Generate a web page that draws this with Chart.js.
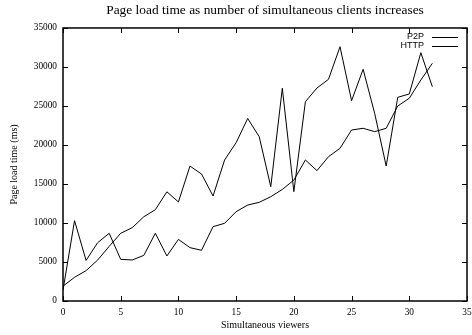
<!DOCTYPE html>
<html>
<head>
<meta charset="utf-8">
<script src="https://cdn.jsdelivr.net/npm/chart.js@4/dist/chart.umd.min.js"></script>
<style>
  html, body { margin: 0; padding: 0; background: #fff; }
  #wrap { width: 472px; height: 335px; }
</style>
</head>
<body>
<div id="wrap"><canvas id="loadChart" width="472" height="335"></canvas></div>
<script>
const viewers = [0, 1, 2, 3, 4, 5, 6, 7, 8, 9, 10, 11, 12, 13, 14, 15, 16,
  17, 18, 19, 20, 21, 22, 23, 24, 25, 26, 27, 28, 29, 30, 31, 32];
const p2pTimes = [1900, 3040, 3890, 5250, 7000, 8680, 9400, 10800, 11700, 14000,
  12700, 17300, 16280, 13460, 18080, 20300, 23400, 21060, 14650, 27270, 14020,
  25550, 27300, 28420, 32600, 25680, 29700, 24060, 17300, 26110, 26540, 31830, 27470];
const httpTimes = [1400, 10300, 5200, 7470, 8680, 5340, 5260, 5850, 8680, 5770,
  7900, 6840, 6500, 9530, 9960, 11450, 12300, 12650, 13370, 14300, 15500,
  18080, 16710, 18500, 19570, 21920, 22140, 21710, 22140, 25000, 25990, 28330, 30470];
const xTicks = [0, 5, 10, 15, 20, 25, 30, 35];
const yTicks = [0, 5000, 10000, 15000, 20000, 25000, 30000, 35000];

const serif = "'Liberation Serif', 'DejaVu Serif', serif";
const sans = "'Liberation Sans', Arial, sans-serif";

const toPoints = vals => viewers.map((v, i) => ({ x: v, y: vals[i] }));

// gnuplot style frame: border plus inward ticks on all four sides, and key at top right
const gnuplotFrame = {
  id: 'gnuplotFrame',
  afterDraw(chart) {
    const { ctx, chartArea: a, scales } = chart;
    const len = 5;
    ctx.save();
    ctx.strokeStyle = '#000';
    ctx.lineWidth = 1;
    ctx.beginPath();
    xTicks.forEach(t => {
      const px = Math.round(scales.x.getPixelForValue(t)) + 0.5;
      ctx.moveTo(px, a.bottom); ctx.lineTo(px, a.bottom - len);
      ctx.moveTo(px, a.top); ctx.lineTo(px, a.top + len);
    });
    yTicks.forEach(t => {
      const py = Math.round(scales.y.getPixelForValue(t)) + 0.5;
      ctx.moveTo(a.left, py); ctx.lineTo(a.left + len, py);
      ctx.moveTo(a.right, py); ctx.lineTo(a.right - len, py);
    });
    ctx.stroke();
    ctx.lineWidth = 1.5;
    ctx.strokeRect(a.left, a.top, a.right - a.left, a.bottom - a.top);

    // key
    ctx.font = '9px ' + sans;
    ctx.fillStyle = '#000';
    ctx.textAlign = 'right';
    ctx.textBaseline = 'middle';
    ctx.lineWidth = 1;
    chart.data.datasets.forEach((ds, i) => {
      const y = a.top + 9 + i * 9;
      ctx.fillText(ds.label, a.right - 43, y);
      ctx.beginPath();
      ctx.moveTo(a.right - 35, Math.round(y) + 0.5);
      ctx.lineTo(a.right - 9, Math.round(y) + 0.5);
      ctx.stroke();
    });
    ctx.restore();
  }
};

new Chart(document.getElementById('loadChart'), {
  type: 'line',
  data: {
    datasets: [
      {
        label: 'P2P',
        data: toPoints(p2pTimes),
        borderColor: '#000',
        borderWidth: 1,
        pointRadius: 0,
        tension: 0,
        fill: false,
      },
      {
        label: 'HTTP',
        data: toPoints(httpTimes),
        borderColor: '#000',
        borderWidth: 1,
        pointRadius: 0,
        tension: 0,
        fill: false,
      },
    ],
  },
  options: {
    responsive: false,
    animation: false,
    devicePixelRatio: 1,
    layout: { padding: { left: 0, right: 5, top: 0, bottom: 0 } },
    plugins: {
      legend: { display: false },
      tooltip: { enabled: false },
      title: {
        display: true,
        text: 'Page load time as number of simultaneous clients increases',
        color: '#000',
        fullSize: false,
        font: { family: serif, size: 13.4, weight: 'normal' },
        padding: { top: 2, bottom: 9.9 },
      },
    },
    scales: {
      x: {
        type: 'linear',
        min: 0,
        max: 35,
        afterBuildTicks: scale => { scale.ticks = xTicks.map(v => ({ value: v })); },
        afterFit: scale => { scale.height = 34; scale.paddingLeft = 0; scale.paddingRight = 0; },
        grid: { display: false, drawTicks: false },
        border: { display: false },
        ticks: {
          color: '#000',
          padding: 6,
          maxRotation: 0,
          autoSkip: false,
          font: { family: serif, size: 9.3 },
        },
        title: {
          display: true,
          text: 'Simultaneous viewers',
          color: '#000',
          font: { family: serif, size: 10 },
          padding: { top: 0, bottom: 4 },
        },
      },
      y: {
        type: 'linear',
        min: 0,
        max: 35000,
        afterBuildTicks: scale => { scale.ticks = yTicks.map(v => ({ value: v })); },
        afterFit: scale => { scale.width = 63; scale.paddingTop = 0; scale.paddingBottom = 0; },
        grid: { display: false, drawTicks: false },
        border: { display: false },
        ticks: {
          color: '#000',
          padding: 6,
          autoSkip: false,
          font: { family: serif, size: 9.3 },
          callback: v => String(v),
        },
        title: {
          display: true,
          text: 'Page load time (ms)',
          color: '#000',
          font: { family: serif, size: 10 },
          padding: { top: 8, bottom: 0 },
        },
      },
    },
  },
  plugins: [gnuplotFrame],
});
</script>
</body>
</html>
